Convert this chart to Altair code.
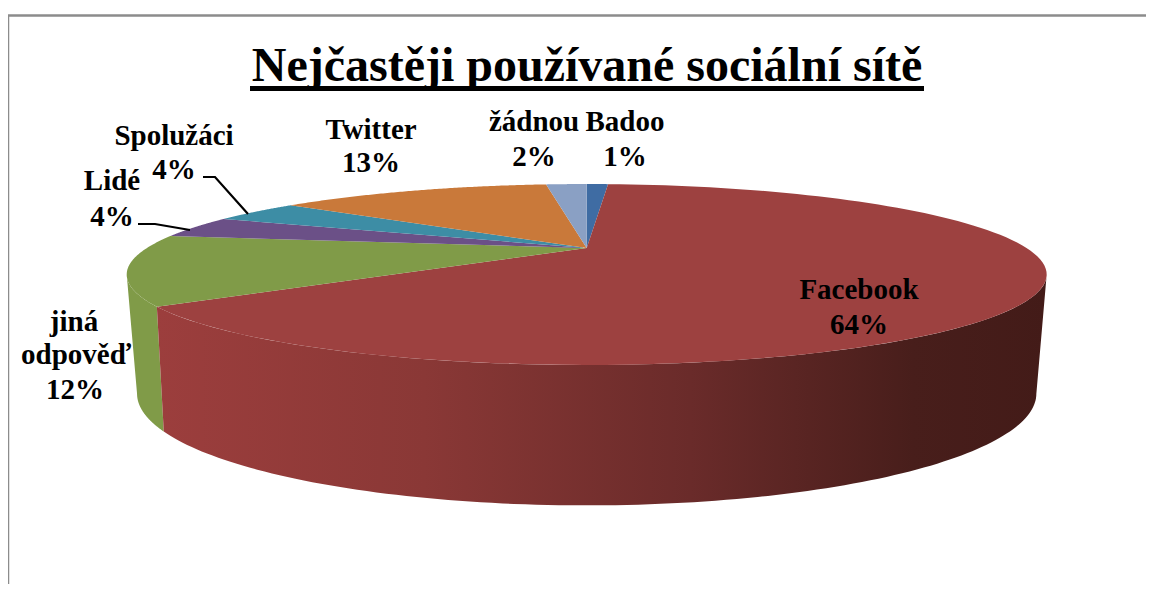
import math
import altair as alt

# ---- data (clockwise from 12 o'clock)
names = ["Badoo", "Facebook", "jiná odpověď", "Lidé", "Spolužáci", "Twitter", "žádnou"]
shares = [1.0, 64.0, 12.4, 4.0, 4.0, 12.7, 1.9]
colors = ["#3f6ca3", "#9d4140", "#809b48", "#6b5087", "#3d8da5", "#c9793a", "#8aa0c4"]

title_text = "Nejčastěji používané  sociální sítě"
label_lines = ["Badoo", "1%", "Facebook", "64%", "jiná", "odpověď", "12%", "Lidé", "4%",
               "Spolužáci", "4%", "Twitter", "13%", "žádnou", "2%"]
label_x = [625, 625, 859, 859, 74, 76, 75, 112, 112, 174, 174, 371, 371, 534, 534]
label_y = [122, 157, 290, 325, 322, 355, 390, 181, 217, 136, 170, 130, 163, 122, 157]

# ---- perspective disc geometry (page pixels)
CX, TOP_Y0, TOP_A, TOP_B, TOP_K = 586.7, 248.0, 439.8, 82.7, 0.293
BOT_Y0, BOT_A, BOT_B, BOT_K = 359.0, 427.5, 101.0, 0.31


def rim(deg, y0, a, b, k):
    t = math.radians(deg)
    u, v = math.sin(t), -math.cos(t)
    w = 1 / (1 - k * v)
    return [CX + a * u * w, y0 + b * v * w]


def top(deg):
    return rim(deg, TOP_Y0, TOP_A, TOP_B, TOP_K)


def bot(deg):
    return rim(deg, BOT_Y0, BOT_A, BOT_B, BOT_K)


def arc(fn, d0, d1, n=120):
    return [fn(d0 + (d1 - d0) * i / n) for i in range(n + 1)]


def feature(coords, color="#000", kind="Polygon"):
    geom = coords if kind == "LineString" else [coords + [coords[0]]]
    return {"type": "Feature", "properties": {"color": color},
            "geometry": {"type": kind, "coordinates": geom}}


bounds = [0]
for s in shares:
    bounds.append(bounds[-1] + s * 3.6)

sectors = [feature([[CX, TOP_Y0]] + arc(top, bounds[i], bounds[i + 1]), colors[i])
           for i in range(len(shares))]

top_right = math.degrees(math.acos(-TOP_K))
bot_right = math.degrees(math.acos(-BOT_K))
red_end = bounds[2]
red_wall = feature(arc(top, top_right, red_end) + arc(bot, red_end, bot_right), colors[1])
green_wall = feature(arc(top, red_end, 360 - top_right) + arc(bot, 360 - bot_right, red_end), colors[2])

leaders = [feature([[203, 177], [215, 177], [248, 214]], kind="LineString"),
           feature([[138, 224], [155, 224], [190, 230]], kind="LineString")]
frame = [feature([[8, 600], [8, 15.5], [1160, 15.5]], kind="LineString")]
underline = [feature([[250, 88.5], [924, 88.5]], kind="LineString")]

red_gradient = alt.LinearGradient(
    gradient="linear", x1=0, x2=1, y1=0, y2=0,
    stops=[alt.GradientStop(color="#9c3e3d", offset=0),
           alt.GradientStop(color="#8a3836", offset=0.3),
           alt.GradientStop(color="#6a2b2a", offset=0.6),
           alt.GradientStop(color="#481e1b", offset=0.85),
           alt.GradientStop(color="#431b18", offset=1)])

FONT = "Liberation Serif"

frame_layer = alt.Chart(alt.Data(values=frame)).mark_geoshape(
    filled=False, stroke="#8c8c8c", strokeWidth=2.5)
red_wall_layer = alt.Chart(alt.Data(values=[red_wall])).mark_geoshape(
    fill=red_gradient, strokeWidth=0)
green_wall_layer = alt.Chart(alt.Data(values=[green_wall])).mark_geoshape(
    fill=colors[2], strokeWidth=0)
sector_layer = alt.Chart(alt.Data(values=sectors)).mark_geoshape(strokeWidth=0).encode(
    fill=alt.Fill("properties.color:N", scale=None))
leader_layer = alt.Chart(alt.Data(values=leaders)).mark_geoshape(
    filled=False, stroke="#000", strokeWidth=2.2)
underline_layer = alt.Chart(alt.Data(values=underline)).mark_geoshape(
    filled=False, stroke="#000", strokeWidth=5)

label_rows = [{"t": t, "x": x, "y": y} for t, x, y in zip(label_lines, label_x, label_y)]
label_layer = alt.Chart(alt.Data(values=label_rows)).mark_text(
    font=FONT, fontWeight="bold", fontSize=29, color="#000", baseline="middle", align="center"
).encode(longitude="x:Q", latitude="y:Q", text="t:N")
title_layer = alt.Chart(alt.Data(values=[{"t": title_text, "x": 587, "y": 81}])).mark_text(
    font=FONT, fontWeight="bold", fontSize=48, color="#000", baseline="alphabetic", align="center"
).encode(longitude="x:Q", latitude="y:Q", text="t:N")

chart = alt.layer(
    frame_layer, green_wall_layer, red_wall_layer, sector_layer,
    leader_layer, underline_layer, label_layer, title_layer
).project(type="identity", scale=1, translate=[-8, -8]).properties(
    width=1138, height=576, padding=0, autosize=alt.AutoSizeParams(type="none"),
    background="#ffffff"
).configure_view(stroke=None)

chart.save("out.html", embed_options={"renderer": "svg", "actions": False})
